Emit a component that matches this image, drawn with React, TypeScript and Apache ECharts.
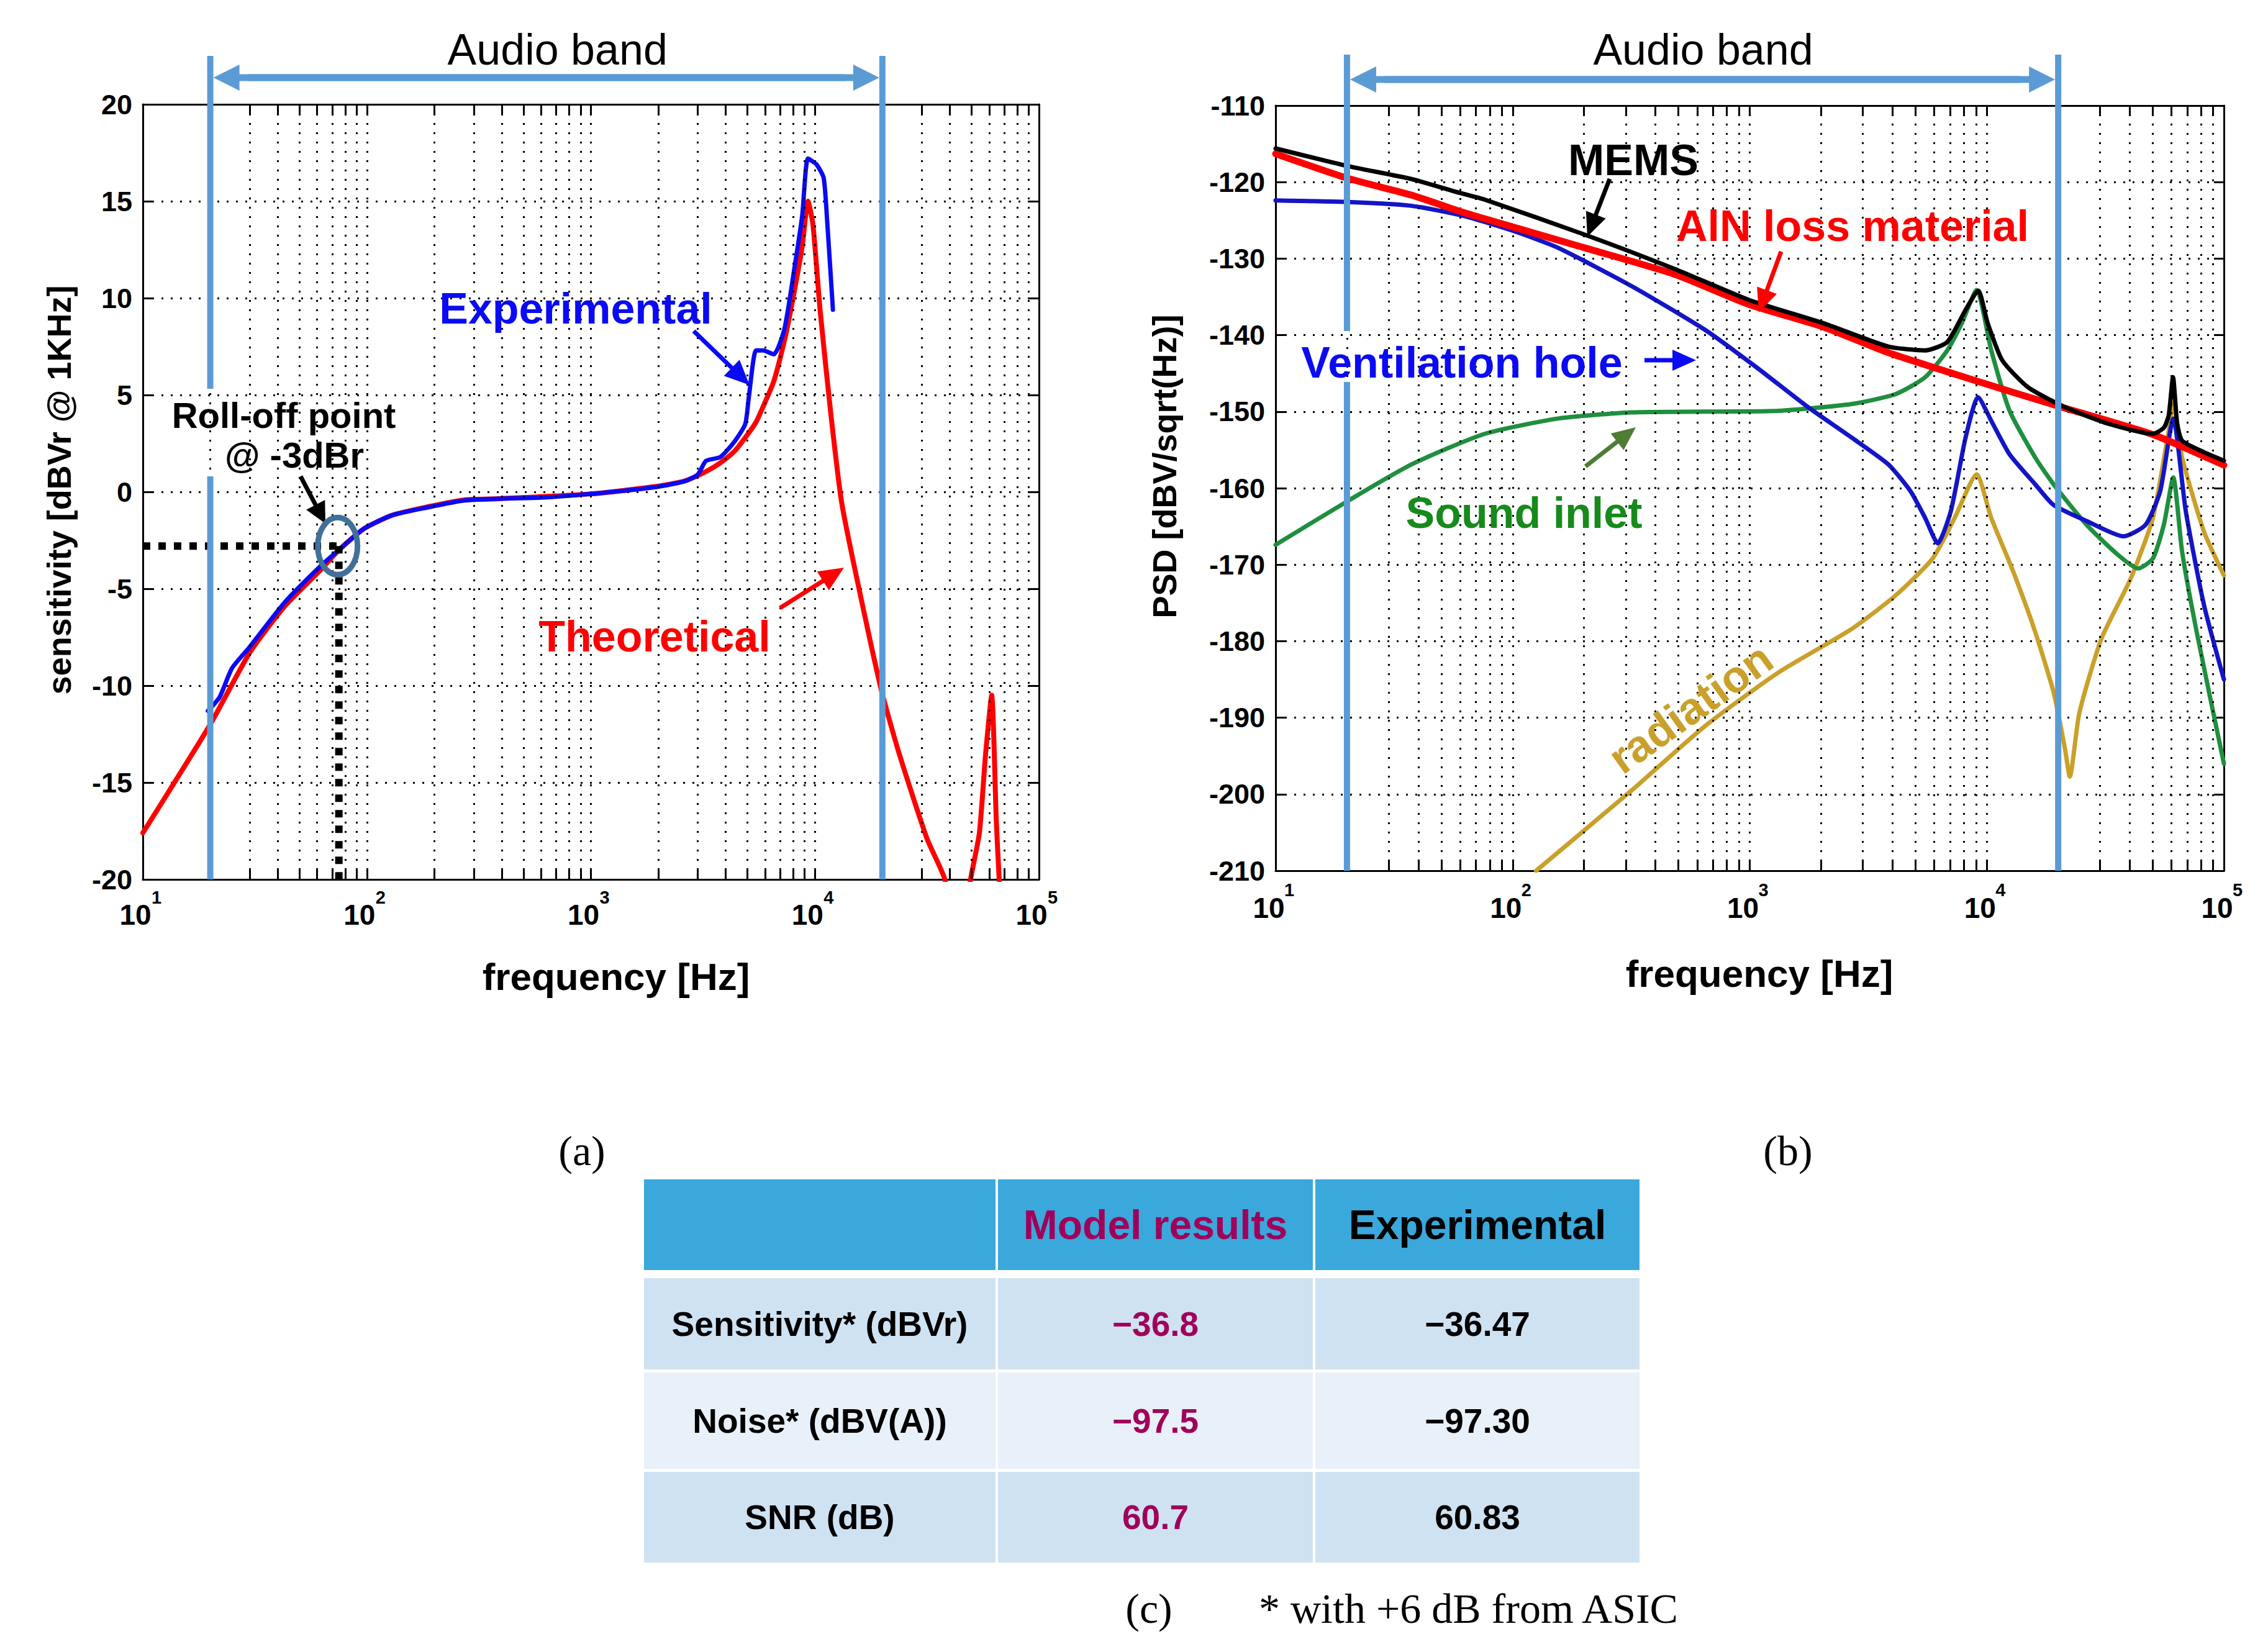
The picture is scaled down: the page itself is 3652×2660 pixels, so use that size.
import React, { useEffect, useRef } from "react";
import * as echarts from "echarts";

const W = 3652;
const H = 2660;
const SANS = '"Liberation Sans", Arial, Helvetica, sans-serif';
const SERIF = '"Liberation Serif", "Times New Roman", Times, serif';

// ---------------- Panel (a): sensitivity [dBVr @ 1kHz] ----------------
const theoFreq = [10, 20, 30, 43, 62.5, 75, 97, 130, 187, 270, 390, 1010, 1955, 2620, 3264, 3782, 4377, 4886, 5457, 5870, 6546, 7305, 7863, 8780, 9305, 9795, 10540, 11780, 13140, 15210, 19660, 23610, 31640, 38000, 44000, 49500, 54200, 57800, 61500, 64500, 66800, 70000];
const theoSens = [-17.6, -12.0, -8.3, -5.9, -4.0, -3.0, -1.9, -1.2, -0.77, -0.42, -0.35, -0.1, 0.28, 0.56, 1.05, 1.5, 2.1, 2.8, 3.6, 4.4, 5.7, 7.8, 9.6, 12.7, 15.0, 13.8, 9.4, 4.0, -0.5, -4.2, -10.1, -13.4, -17.9, -20.0, -24, -20.0, -17.6, -13.5, -10.5, -17.0, -20.5, -24];
const expFreq = [19.5, 22, 25, 30, 43, 62.5, 75, 97, 130, 187, 270, 390, 600, 1010, 1955, 2620, 3000, 3264, 3782, 4377, 4886, 5070, 5457, 5870, 6546, 7305, 8160, 8780, 9305, 10160, 10940, 11350, 12030];
const expSens = [-11.3, -10.6, -9.1, -8.0, -5.7, -3.8, -3.0, -1.9, -1.2, -0.8, -0.45, -0.35, -0.3, -0.1, 0.25, 0.55, 0.9, 1.6, 1.8, 2.6, 3.5, 4.9, 7.3, 7.3, 7.1, 8.4, 11.8, 14.3, 17.2, 16.9, 16.2, 13.9, 9.4];
const rollOffFreq = 75;
const rollOffLevel = -2.8;

// ---------------- Panel (b): PSD [dBV/sqrt(Hz)] ----------------
const memsFreq = [10, 20.1, 37.4, 59.6, 76.3, 207, 487, 993, 2026, 3845, 5495, 6808, 8134, 9200, 10075, 11620, 14900, 21290, 32670, 50150, 55780, 58500, 61000, 63500, 66630, 82440, 100000];
const memsPsd = [-115.6, -117.9, -119.6, -121.4, -122.3, -127.0, -131.4, -135.4, -138.4, -141.5, -142.0, -140.9, -136.7, -134.2, -138.4, -143.3, -146.8, -149.4, -151.6, -152.9, -152.1, -150.5, -145.5, -151.5, -153.8, -155.3, -156.4];
const alnFreq = [10, 20.1, 37.4, 59.6, 76.3, 207, 487, 993, 2026, 3845, 9055, 19130, 50150, 100000];
const alnPsd = [-116.3, -119.5, -121.7, -123.8, -124.8, -128.7, -132.1, -136.0, -138.9, -142.3, -146.0, -149.1, -153.0, -157.0];
const ventFreq = [10, 20.1, 37.4, 61.6, 101, 155.6, 317.6, 647, 1067, 1758, 2693, 3845, 4766, 5495, 6207, 7050, 8134, 9186, 10440, 12480, 16000, 19130, 26370, 37680, 46690, 53860, 61140, 69050, 82440, 100000];
const ventPsd = [-122.4, -122.6, -123.1, -124.4, -126.4, -128.6, -133.6, -139.3, -144.2, -149.4, -153.4, -156.9, -160.4, -163.9, -167.2, -163.0, -153.4, -148.1, -151.2, -155.6, -159.5, -162.2, -164.3, -166.3, -164.8, -160.4, -150.9, -163.0, -175.3, -185.0];
const inletFreq = [10, 20.1, 37.4, 76.3, 155.6, 317.6, 647, 1321, 2693, 4131, 5495, 6808, 7852, 9055, 10440, 12480, 16000, 19130, 26370, 35080, 43470, 50150, 55780, 61140, 66630, 76780, 100000];
const inletPsd = [-167.4, -161.7, -156.9, -152.9, -150.9, -150.1, -150.0, -149.9, -149.0, -147.7, -145.5, -142.0, -138.4, -134.1, -142.0, -149.9, -156.0, -159.5, -164.8, -168.5, -170.5, -169.2, -164.8, -158.6, -168.3, -178.8, -196.0];
const radFreq = [125.6, 317.6, 647, 1321, 2693, 4131, 5904, 7313, 9055, 10440, 12920, 16000, 19130, 21290, 22390, 24550, 30410, 40470, 50150, 57850, 61140, 66630, 82440, 100000];
const radPsd = [-210, -199.5, -191.1, -184.1, -178.4, -174.0, -169.2, -163.9, -158.2, -163.9, -170.9, -178.8, -186.7, -193.8, -197.7, -189.4, -179.7, -171.8, -163.9, -153.4, -149.0, -156.0, -165.7, -171.4];

const audioBand = [20, 20000];

// x tick labels (decades, shown as 10^n)
const decadeTicks = [10, 100, 1000, 10000, 100000];
const decadeBase = "10";
const decadeExp = ["1", "2", "3", "4", "5"];

// ---------------- Table (c) ----------------
const tableHeader = ["", "Model results", "Experimental"];
const tableRowLabels = ["Sensitivity* (dBVr)", "Noise* (dBV(A))", "SNR (dB)"];
const tableModel = ["\u221236.8", "\u221297.5", "60.7"];
const tableExperimental = ["\u221236.47", "\u221297.30", "60.83"];

const pairs = (xs: number[], ys: number[]) => xs.map((x, i) => [x, ys[i]]);

const gridFreqs: number[] = [];
const minorFreqs: number[] = [];
decadeTicks.slice(0, 4).forEach((d) => {
  for (let k = 1; k <= 9; k++) {
    const f = k * d;
    if (f > 10) gridFreqs.push(f);
    if (k > 1) minorFreqs.push(f);
  }
});

function xAxisCfg(gridIndex: number, position: "bottom" | "top") {
  return {
    type: "log",
    logBase: 10,
    gridIndex,
    position,
    min: 10,
    max: 100000,
    axisLine: { show: true, onZero: false, lineStyle: { color: "#000", width: 3 } },
    axisTick: { show: true, inside: true, length: 16, lineStyle: { color: "#000", width: 3 } },
    axisLabel: { show: false },
    splitLine: { show: false },
  };
}

function yAxisCfg(gridIndex: number, position: "left" | "right", min: number, max: number, interval: number) {
  const show = position === "left";
  return {
    type: "value",
    gridIndex,
    position,
    min,
    max,
    interval,
    axisLine: { show: true, onZero: false, lineStyle: { color: "#000", width: 3 } },
    axisTick: { show: true, inside: true, length: 16, lineStyle: { color: "#000", width: 3 } },
    axisLabel: { show, margin: 17, color: "#000", fontSize: 45, fontWeight: "bold", fontFamily: SANS },
    splitLine: { show, lineStyle: { color: "#000", width: 3, type: [3, 12] } },
  };
}

function gridHelper(idx: number, yMin: number, yMax: number, pxPerUnit: number) {
  const len = 15 / pxPerUnit;
  const solid = { type: "solid", width: 3, color: "#000" };
  const data: any[] = [];
  gridFreqs.forEach((f) => data.push({ xAxis: f }));
  minorFreqs.forEach((f) => {
    data.push([{ coord: [f, yMin], lineStyle: solid }, { coord: [f, yMin + len], lineStyle: solid }]);
    data.push([{ coord: [f, yMax], lineStyle: solid }, { coord: [f, yMax - len], lineStyle: solid }]);
  });
  return {
    type: "line",
    xAxisIndex: idx,
    yAxisIndex: idx,
    data: [],
    z: 1,
    silent: true,
    markLine: {
      silent: true,
      animation: false,
      symbol: ["none", "none"],
      label: { show: false },
      emphasis: { disabled: true },
      lineStyle: { color: "#000", width: 3, type: [3, 12] },
      data,
    },
  };
}

function lineSeries(idx: number, data: any[], color: string, width: number, z = 3, dash?: number[], smooth = 0.2) {
  return {
    type: "line",
    xAxisIndex: idx,
    yAxisIndex: idx,
    data,
    symbol: "none",
    showSymbol: false,
    silent: true,
    clip: true,
    smooth: dash ? false : smooth,
    z,
    lineStyle: { color, width, type: dash || "solid", join: "round", cap: dash ? "butt" : "round" },
    emphasis: { disabled: true },
  };
}

function buildOption() {
  return {
    animation: false,
    backgroundColor: "#ffffff",
    textStyle: { fontFamily: SANS },
    grid: [
      { left: 230, top: 168, width: 1443, height: 1248, containLabel: false },
      { left: 2054, top: 170, width: 1527, height: 1232, containLabel: false },
    ],
    xAxis: [xAxisCfg(0, "bottom"), xAxisCfg(0, "top"), xAxisCfg(1, "bottom"), xAxisCfg(1, "top")],
    yAxis: [yAxisCfg(0, "left", -20, 20, 5), yAxisCfg(0, "right", -20, 20, 5), yAxisCfg(1, "left", -210, -110, 10), yAxisCfg(1, "right", -210, -110, 10)],
    series: [
      gridHelper(0, -20, 20, 1248 / 40),
      lineSeries(0, pairs(theoFreq, theoSens), "#ff0000", 8, 3),
      lineSeries(0, pairs(expFreq, expSens), "#0a0af5", 7, 4),
      lineSeries(0, [[10, rollOffLevel], [rollOffFreq, rollOffLevel]], "#000", 12, 5, [12, 13]),
      lineSeries(0, [[rollOffFreq, rollOffLevel], [rollOffFreq, -20]], "#000", 12, 5, [12, 13]),
      gridHelper(2, -210, -110, 1232 / 100),
      lineSeries(2, pairs(radFreq, radPsd), "#c9a02a", 7, 3),
      lineSeries(2, pairs(inletFreq, inletPsd), "#1f8f3f", 7, 3),
      lineSeries(2, pairs(ventFreq, ventPsd), "#1414c8", 7, 4),
      lineSeries(2, pairs(alnFreq, alnPsd), "#ff0000", 11, 5),
      lineSeries(2, pairs(memsFreq, memsPsd), "#000000", 7, 6),
    ],
  };
}

function txt(x: number, y: number, text: string, color: string, size: number, weight = "bold", rotation = 0, family = SANS, align = "center") {
  return {
    type: "text",
    x,
    y,
    rotation,
    z: 60,
    silent: true,
    style: { text, fill: color, fontSize: size, fontWeight: weight, fontFamily: family, align, verticalAlign: "middle" },
  };
}

function arrow(x1: number, y1: number, x2: number, y2: number, color: string, lw: number, hl: number, hw: number) {
  const dx = x2 - x1;
  const dy = y2 - y1;
  const L = Math.hypot(dx, dy);
  const ux = dx / L;
  const uy = dy / L;
  const bx = x2 - ux * hl;
  const by = y2 - uy * hl;
  const px = -uy;
  const py = ux;
  return [
    { type: "line", z: 55, silent: true, shape: { x1, y1, x2: bx + ux * 3, y2: by + uy * 3 }, style: { stroke: color, lineWidth: lw } },
    { type: "polygon", z: 55, silent: true, shape: { points: [[x2, y2], [bx + px * hw, by + py * hw], [bx - px * hw, by - py * hw]] }, style: { fill: color } },
  ];
}

function vline(x: number, y1: number, y2: number, color: string, lw: number) {
  return { type: "line", z: 50, silent: true, shape: { x1: x, y1, x2: x, y2 }, style: { stroke: color, lineWidth: lw } };
}

function buildGraphics(toPx: (g: number, f: number, v: number) => number[]) {
  const band = "#5b9bd5";
  const els: any[] = [];
  // ---- decade tick labels 10^n ----
  decadeTicks.forEach((f, i) => {
    const pa = toPx(0, f, -20);
    els.push(txt(pa[0] - 12, pa[1] + 57, decadeBase, "#000", 46));
    els.push(txt(pa[0] + 14, pa[1] + 29, decadeExp[i], "#000", 29, "bold", 0, SANS, "left"));
    const pb = toPx(1, f, -210);
    els.push(txt(pb[0] - 11, pb[1] + 60, decadeBase, "#000", 46));
    els.push(txt(pb[0] + 14, pb[1] + 31, decadeExp[i], "#000", 29, "bold", 0, SANS, "left"));
  });
  // ---- panel (a) audio band ----
  const aL = toPx(0, audioBand[0], -20);
  const aR = toPx(0, audioBand[1], -20);
  els.push(vline(aL[0], 90, 626, band, 10), vline(aL[0], 767, aL[1], band, 10), vline(aR[0], 90, aR[1], band, 10));
  els.push(...arrow(aR[0] - 60, 125, aL[0] + 5, 125, band, 11, 42, 21), ...arrow(aL[0] + 60, 125, aR[0] - 5, 125, band, 11, 42, 21));
  els.push(txt((aL[0] + aR[0]) / 2 + 18, 80, "Audio band", "#000", 70, "normal"));
  // ---- panel (b) audio band ----
  const bL = toPx(1, audioBand[0], -210);
  const bR = toPx(1, audioBand[1], -210);
  els.push(vline(bL[0], 88, 533, band, 10), vline(bL[0], 615, bL[1], band, 10), vline(bR[0], 88, bR[1], band, 10));
  els.push(...arrow(bR[0] - 60, 128, bL[0] + 5, 128, band, 11, 42, 21), ...arrow(bL[0] + 60, 128, bR[0] - 5, 128, band, 11, 42, 21));
  els.push(txt((bL[0] + bR[0]) / 2 + 1, 80, "Audio band", "#000", 70, "normal"));

  // ---- panel (a) annotations ----
  const ro = toPx(0, rollOffFreq, rollOffLevel);
  els.push({ type: "ellipse", z: 56, silent: true, shape: { cx: ro[0] - 2, cy: ro[1], rx: 32, ry: 46 }, style: { fill: "none", stroke: "#41709a", lineWidth: 9 } });
  els.push(txt(457, 668, "Roll-off point", "#000", 58));
  els.push(txt(474, 732, "@ -3dBr", "#000", 58));
  els.push(...arrow(484, 767, 524, 843, "#000", 7, 34, 17));
  els.push(txt(927, 497, "Experimental", "#0a0af5", 70));
  els.push(...arrow(1117, 533, 1207, 620, "#0a0af5", 7, 40, 18));
  els.push(txt(1054, 1025, "Theoretical", "#ff0000", 70));
  els.push(...arrow(1256, 979, 1359, 914, "#ff0000", 7, 40, 18));
  els.push(txt(95, 789, "sensitivity [dBVr @ 1KHz]", "#000", 54, "bold", Math.PI / 2));
  els.push(txt(992, 1572, "frequency [Hz]", "#000", 62));

  // ---- panel (b) annotations ----
  els.push(txt(2630, 258, "MEMS", "#000", 70));
  els.push(...arrow(2592, 288, 2556, 381, "#000", 7, 38, 17));
  els.push(txt(2983, 364, "AlN loss material", "#ff0000", 70));
  els.push(...arrow(2868, 405, 2832, 503, "#ff0000", 7, 38, 17));
  els.push(txt(2354, 584, "Ventilation hole", "#0a0af5", 70));
  els.push(...arrow(2648, 580, 2731, 580, "#0a0af5", 7, 38, 17));
  els.push(txt(2454, 826, "Sound inlet", "#178a1c", 70));
  els.push(...arrow(2553, 751, 2634, 688, "#4e7d33", 7, 38, 17));
  els.push(txt(2722, 1140, "radiation", "#c9a02a", 72, "bold", 0.62));
  els.push(txt(1875, 751, "PSD [dBV/sqrt(Hz)]", "#000", 54, "bold", Math.PI / 2));
  els.push(txt(2833, 1567, "frequency [Hz]", "#000", 62));

  // ---- captions ----
  els.push(txt(937, 1853, "(a)", "#000", 68, "normal", 0, SERIF));
  els.push(txt(2879, 1853, "(b)", "#000", 68, "normal", 0, SERIF));
  els.push(txt(1850, 2590, "(c)", "#000", 68, "normal", 0, SERIF));
  els.push(txt(2027, 2590, "* with +6 dB from ASIC", "#000", 68, "normal", 0, SERIF, "left"));

  // ---- table (c) ----
  const colX = [[1037, 1603], [1607, 2114], [2118, 2640]];
  const rowY = [[1899, 2045], [2058, 2205], [2210, 2365], [2370, 2516]];
  const rowFill = ["#3aa8db", "#cfe2f1", "#e8f0f9", "#cfe2f1"];
  const magenta = "#a0005a";
  rowY.forEach((ry, r) => {
    colX.forEach((cx) => {
      els.push({ type: "rect", z: 40, silent: true, shape: { x: cx[0], y: ry[0], width: cx[1] - cx[0], height: ry[1] - ry[0] }, style: { fill: rowFill[r] } });
    });
  });
  const ccx = colX.map((c) => (c[0] + c[1]) / 2);
  const rcy = rowY.map((r) => (r[0] + r[1]) / 2);
  els.push(txt(ccx[1], rcy[0], tableHeader[1], magenta, 66));
  els.push(txt(ccx[2], rcy[0], tableHeader[2], "#000", 66));
  tableRowLabels.forEach((lab, i) => {
    els.push(txt(ccx[0], rcy[i + 1], lab, "#000", 55));
    els.push(txt(ccx[1], rcy[i + 1], tableModel[i], magenta, 55));
    els.push(txt(ccx[2], rcy[i + 1], tableExperimental[i], "#000", 55));
  });
  return els;
}

export default function App() {
  const ref = useRef<HTMLDivElement>(null);
  useEffect(() => {
    const el = ref.current as HTMLDivElement;
    const chart = echarts.init(el, null, { renderer: "svg", width: W, height: H });
    chart.setOption(buildOption() as any);
    const toPx = (g: number, f: number, v: number) => {
      const idx = g === 0 ? 0 : 2;
      return chart.convertToPixel({ xAxisIndex: idx, yAxisIndex: idx } as any, [f, v]) as unknown as number[];
    };
    chart.setOption({ graphic: { elements: buildGraphics(toPx) } } as any);
    return () => chart.dispose();
  }, []);
  return <div ref={ref} style={{ position: "fixed", left: 0, top: 0, width: W, height: H, background: "#fff" }} />;
}
